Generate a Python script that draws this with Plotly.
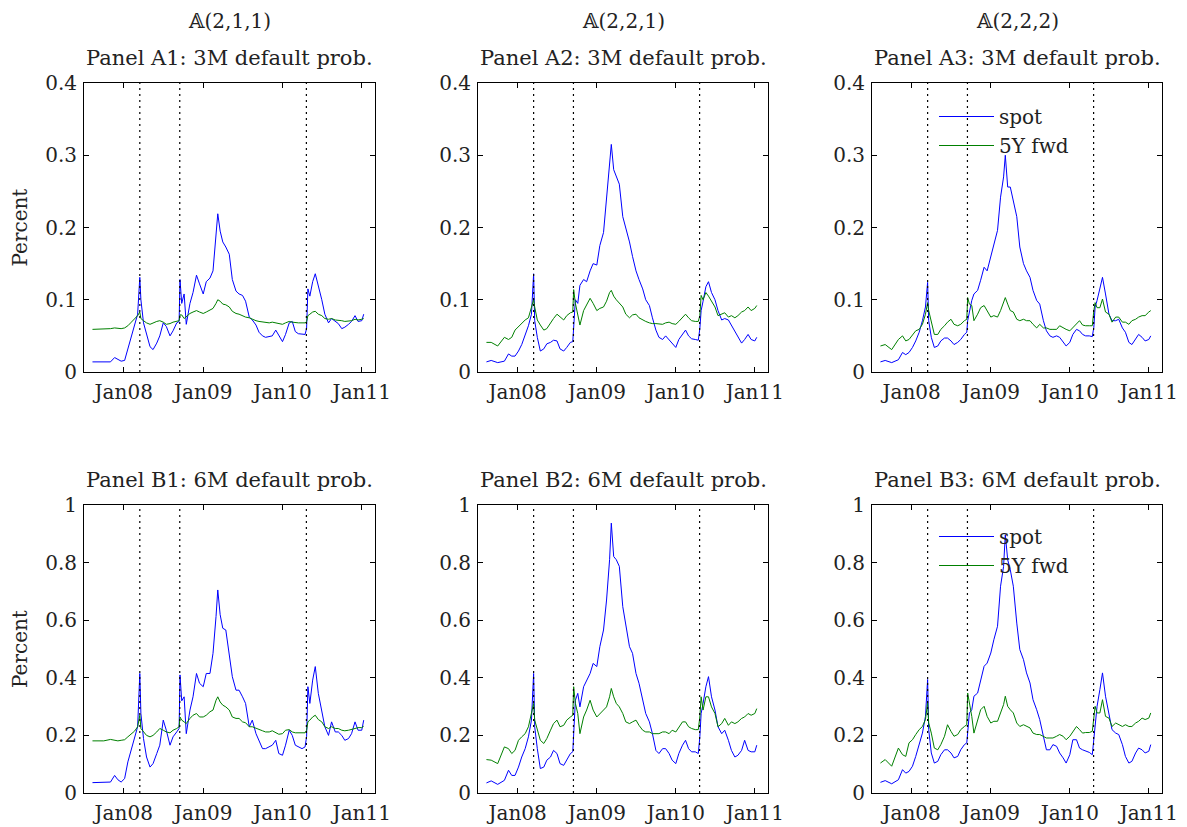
import plotly.graph_objects as go

# ---------------- data ----------------
dates = ["2007-08-10","2007-09-01","2007-10-01","2007-11-01","2007-11-20","2007-12-05","2007-12-20","2008-01-05","2008-01-20","2008-02-05",
         "2008-02-20","2008-03-05","2008-03-15","2008-03-20","2008-04-01","2008-04-15","2008-05-01","2008-05-15","2008-06-01","2008-06-15",
         "2008-07-01","2008-07-15","2008-08-01","2008-08-15","2008-09-01","2008-09-12","2008-09-16","2008-09-24","2008-10-05","2008-10-15",
         "2008-11-01","2008-11-15","2008-12-01","2008-12-15","2009-01-01","2009-01-15","2009-02-01","2009-02-15","2009-03-01","2009-03-09",
         "2009-03-20","2009-04-01","2009-04-15","2009-05-01","2009-05-15","2009-06-01","2009-06-15","2009-07-01","2009-07-15","2009-08-01",
         "2009-08-15","2009-09-01","2009-09-15","2009-10-01","2009-10-15","2009-11-01","2009-11-15","2009-12-01","2009-12-15","2010-01-01",
         "2010-01-15","2010-02-01","2010-02-15","2010-03-01","2010-03-15","2010-04-01","2010-04-15","2010-04-22","2010-04-28","2010-05-07",
         "2010-05-20","2010-06-01","2010-06-15","2010-07-01","2010-07-15","2010-08-01","2010-08-15","2010-09-01","2010-09-15","2010-10-01",
         "2010-10-15","2010-11-01","2010-11-15","2010-12-01","2010-12-15","2011-01-01","2011-01-10"]

a1_spot = [0.014,0.014,0.014,0.014,0.020,0.018,0.015,0.016,0.033,0.048,
           0.068,0.080,0.131,0.100,0.068,0.052,0.035,0.031,0.040,0.050,
           0.068,0.063,0.050,0.057,0.068,0.070,0.128,0.095,0.108,0.066,
           0.095,0.110,0.134,0.122,0.108,0.125,0.130,0.140,0.185,0.219,
           0.195,0.180,0.173,0.163,0.128,0.112,0.108,0.106,0.098,0.076,
           0.072,0.065,0.055,0.050,0.048,0.049,0.050,0.058,0.050,0.042,
           0.052,0.068,0.070,0.056,0.053,0.052,0.052,0.060,0.115,0.105,
           0.125,0.136,0.120,0.100,0.080,0.068,0.074,0.070,0.067,0.060,
           0.062,0.066,0.070,0.078,0.070,0.071,0.080]
a1_fwd = [0.059,0.059,0.059,0.060,0.061,0.060,0.060,0.061,0.064,0.069,
          0.074,0.078,0.083,0.074,0.071,0.068,0.066,0.068,0.070,0.071,
          0.069,0.066,0.067,0.069,0.070,0.071,0.079,0.079,0.074,0.077,
          0.081,0.083,0.085,0.083,0.081,0.083,0.086,0.088,0.095,0.100,
          0.098,0.094,0.093,0.090,0.084,0.081,0.080,0.078,0.076,0.075,
          0.073,0.071,0.070,0.069,0.069,0.068,0.069,0.068,0.067,0.066,
          0.068,0.070,0.069,0.068,0.068,0.068,0.068,0.070,0.078,0.080,
          0.083,0.084,0.080,0.078,0.074,0.073,0.074,0.072,0.072,0.071,
          0.070,0.070,0.071,0.073,0.072,0.073,0.074]

a2_spot = [0.014,0.016,0.013,0.015,0.025,0.022,0.022,0.029,0.038,0.050,
           0.064,0.080,0.136,0.071,0.048,0.029,0.032,0.039,0.041,0.044,
           0.043,0.032,0.029,0.034,0.041,0.042,0.060,0.100,0.095,0.120,
           0.128,0.125,0.140,0.150,0.148,0.175,0.193,0.240,0.280,0.315,
           0.280,0.270,0.260,0.215,0.200,0.180,0.160,0.140,0.128,0.115,
           0.100,0.092,0.075,0.058,0.048,0.045,0.050,0.045,0.040,0.034,
           0.045,0.052,0.058,0.050,0.046,0.045,0.044,0.060,0.085,0.098,
           0.118,0.125,0.110,0.100,0.085,0.072,0.074,0.072,0.065,0.055,
           0.048,0.040,0.045,0.052,0.045,0.043,0.048]
a2_fwd = [0.041,0.041,0.036,0.048,0.045,0.048,0.058,0.063,0.068,0.072,
          0.075,0.088,0.100,0.090,0.072,0.065,0.058,0.060,0.068,0.074,
          0.080,0.076,0.072,0.078,0.082,0.083,0.114,0.095,0.080,0.065,
          0.085,0.092,0.102,0.095,0.085,0.088,0.090,0.098,0.110,0.113,
          0.105,0.100,0.095,0.090,0.080,0.075,0.079,0.080,0.075,0.072,
          0.070,0.068,0.067,0.067,0.067,0.066,0.068,0.069,0.067,0.066,
          0.070,0.076,0.080,0.075,0.071,0.070,0.070,0.078,0.106,0.100,
          0.110,0.105,0.098,0.090,0.078,0.080,0.082,0.076,0.078,0.075,
          0.078,0.083,0.085,0.090,0.085,0.088,0.092]

a3_spot = [0.014,0.016,0.013,0.017,0.027,0.024,0.027,0.034,0.043,0.055,
           0.071,0.090,0.124,0.071,0.048,0.034,0.036,0.043,0.047,0.047,
           0.043,0.038,0.041,0.045,0.052,0.055,0.071,0.085,0.099,0.108,
           0.113,0.127,0.145,0.140,0.159,0.178,0.196,0.242,0.270,0.300,
           0.256,0.256,0.238,0.215,0.173,0.150,0.140,0.131,0.113,0.099,
           0.094,0.071,0.057,0.050,0.048,0.050,0.048,0.041,0.036,0.041,
           0.052,0.059,0.057,0.052,0.050,0.050,0.049,0.062,0.090,0.099,
           0.117,0.131,0.108,0.080,0.071,0.071,0.073,0.061,0.055,0.041,
           0.038,0.045,0.052,0.048,0.043,0.045,0.050]
a3_fwd = [0.036,0.038,0.031,0.045,0.050,0.043,0.045,0.052,0.057,0.059,
          0.066,0.080,0.096,0.085,0.069,0.052,0.052,0.059,0.064,0.069,
          0.073,0.066,0.064,0.066,0.071,0.073,0.103,0.094,0.092,0.071,
          0.080,0.089,0.092,0.085,0.076,0.078,0.076,0.085,0.096,0.103,
          0.094,0.085,0.083,0.073,0.071,0.073,0.071,0.071,0.066,0.061,
          0.066,0.061,0.061,0.059,0.059,0.059,0.064,0.061,0.059,0.057,
          0.061,0.067,0.071,0.065,0.064,0.064,0.064,0.085,0.096,0.089,
          0.089,0.101,0.083,0.080,0.069,0.076,0.076,0.069,0.069,0.066,
          0.071,0.073,0.076,0.078,0.078,0.083,0.085]

b1_spot = [0.036,0.036,0.036,0.038,0.061,0.046,0.038,0.050,0.108,0.154,
           0.195,0.230,0.415,0.276,0.189,0.125,0.090,0.102,0.137,0.166,
           0.253,0.218,0.166,0.195,0.212,0.224,0.410,0.320,0.334,0.206,
           0.288,0.334,0.415,0.381,0.369,0.415,0.415,0.485,0.613,0.705,
           0.619,0.572,0.566,0.485,0.404,0.357,0.357,0.334,0.311,0.230,
           0.253,0.206,0.183,0.154,0.154,0.160,0.166,0.183,0.137,0.131,
           0.166,0.218,0.200,0.166,0.160,0.154,0.160,0.195,0.369,0.311,
           0.392,0.439,0.346,0.288,0.230,0.200,0.247,0.212,0.212,0.200,
           0.183,0.189,0.206,0.247,0.218,0.218,0.253]
b1_fwd = [0.181,0.181,0.181,0.186,0.183,0.181,0.183,0.185,0.195,0.205,
          0.215,0.230,0.270,0.224,0.212,0.200,0.195,0.200,0.212,0.224,
          0.218,0.212,0.209,0.218,0.224,0.230,0.264,0.253,0.247,0.241,
          0.259,0.270,0.276,0.264,0.264,0.270,0.282,0.288,0.322,0.334,
          0.316,0.305,0.299,0.288,0.264,0.259,0.259,0.247,0.244,0.230,
          0.230,0.224,0.220,0.216,0.212,0.212,0.216,0.209,0.204,0.206,
          0.218,0.220,0.212,0.209,0.209,0.209,0.209,0.218,0.247,0.253,
          0.264,0.270,0.255,0.247,0.230,0.224,0.230,0.224,0.224,0.218,
          0.216,0.218,0.220,0.224,0.227,0.227,0.232]

b2_spot = [0.035,0.042,0.030,0.044,0.079,0.061,0.061,0.090,0.125,0.154,
           0.195,0.253,0.415,0.230,0.154,0.085,0.090,0.114,0.125,0.148,
           0.137,0.102,0.096,0.114,0.137,0.143,0.218,0.322,0.346,0.299,
           0.369,0.392,0.415,0.450,0.439,0.508,0.566,0.670,0.810,0.937,
           0.821,0.810,0.787,0.647,0.589,0.508,0.485,0.415,0.381,0.322,
           0.276,0.247,0.206,0.148,0.137,0.154,0.154,0.137,0.114,0.102,
           0.137,0.166,0.183,0.154,0.143,0.143,0.137,0.195,0.276,0.311,
           0.369,0.404,0.334,0.288,0.230,0.206,0.218,0.183,0.148,0.125,
           0.131,0.148,0.183,0.148,0.143,0.143,0.166]
b2_fwd = [0.116,0.114,0.102,0.160,0.154,0.137,0.148,0.183,0.195,0.206,
          0.230,0.276,0.311,0.253,0.224,0.183,0.172,0.189,0.218,0.241,
          0.253,0.230,0.235,0.253,0.264,0.270,0.369,0.311,0.276,0.206,
          0.264,0.288,0.322,0.288,0.264,0.276,0.288,0.299,0.334,0.363,
          0.334,0.311,0.299,0.276,0.247,0.241,0.247,0.253,0.235,0.218,
          0.212,0.212,0.206,0.206,0.206,0.212,0.212,0.206,0.218,0.212,
          0.230,0.247,0.247,0.230,0.224,0.220,0.220,0.264,0.334,0.288,
          0.334,0.334,0.299,0.276,0.230,0.241,0.259,0.235,0.247,0.241,
          0.247,0.259,0.264,0.276,0.270,0.276,0.293]

b3_spot = [0.037,0.043,0.032,0.046,0.081,0.069,0.075,0.093,0.127,0.168,
           0.208,0.266,0.394,0.220,0.139,0.104,0.110,0.133,0.150,0.150,
           0.139,0.122,0.127,0.150,0.168,0.174,0.220,0.278,0.289,0.336,
           0.347,0.394,0.440,0.451,0.486,0.532,0.579,0.718,0.787,0.897,
           0.810,0.775,0.718,0.590,0.498,0.463,0.417,0.382,0.324,0.289,
           0.255,0.197,0.150,0.150,0.168,0.162,0.139,0.122,0.104,0.133,
           0.185,0.185,0.156,0.150,0.145,0.141,0.133,0.185,0.255,0.301,
           0.359,0.417,0.336,0.266,0.220,0.208,0.203,0.168,0.127,0.104,
           0.110,0.139,0.156,0.150,0.139,0.145,0.168]
b3_fwd = [0.104,0.116,0.093,0.156,0.133,0.127,0.174,0.185,0.203,0.220,
          0.231,0.255,0.313,0.243,0.208,0.156,0.150,0.168,0.197,0.237,
          0.214,0.197,0.203,0.220,0.231,0.237,0.347,0.313,0.266,0.208,
          0.255,0.289,0.301,0.266,0.243,0.249,0.249,0.278,0.307,0.336,
          0.301,0.289,0.278,0.243,0.231,0.237,0.231,0.226,0.208,0.203,
          0.203,0.197,0.191,0.191,0.191,0.197,0.203,0.197,0.185,0.197,
          0.214,0.231,0.220,0.208,0.210,0.210,0.214,0.255,0.301,0.278,
          0.278,0.324,0.266,0.260,0.231,0.243,0.237,0.231,0.237,0.231,
          0.231,0.243,0.249,0.260,0.255,0.260,0.278]

event_dates = ["2008-03-15", "2008-09-15", "2010-04-21"]
tick_dates = ["2008-01-01", "2009-01-01", "2010-01-01", "2011-01-01"]
tick_labels = ["Jan08", "Jan09", "Jan10", "Jan11"]
model_titles = ["\U0001D538(2,1,1)", "\U0001D538(2,2,1)", "\U0001D538(2,2,2)"]
panel_titles = ["Panel A1: 3M default prob.", "Panel A2: 3M default prob.", "Panel A3: 3M default prob.",
                "Panel B1: 6M default prob.", "Panel B2: 6M default prob.", "Panel B3: 6M default prob."]
series_names = ["spot", "5Y fwd"]
spot_series = [a1_spot, a2_spot, a3_spot, b1_spot, b2_spot, b3_spot]
fwd_series = [a1_fwd, a2_fwd, a3_fwd, b1_fwd, b2_fwd, b3_fwd]

# ---------------- layout geometry ----------------
# the page places the figure 8px from the top-left corner, so the figure is
# 8px smaller and every pixel position below is in figure coordinates
W, H = 1179, 819
col_px = [(76, 367), (470, 760), (864, 1154)]
row_px = [(75, 364), (497, 785)]
FONT = "DejaVu Serif"
TXT = "#222222"
BLUE = "#0000FF"
GREEN = "#008000"

fig = go.Figure()
layout = dict(width=W, height=H, margin=dict(l=0, r=0, t=0, b=0, pad=0, autoexpand=False),
              paper_bgcolor="white", plot_bgcolor="white",
              font=dict(family=FONT, size=20, color=TXT))
shapes, annotations = [], []

for k in range(6):
    r, c = divmod(k, 3)
    xs = "" if k == 0 else str(k + 1)
    xref, yref = "x" + xs, "y" + xs
    legend_id = None
    if c == 2:
        legend_id = "legend" if r == 0 else "legend2"
    for vals, name, color in [(spot_series[k], series_names[0], BLUE),
                              (fwd_series[k], series_names[1], GREEN)]:
        tr = dict(x=dates, y=vals, mode="lines", name=name,
                  line=dict(color=color, width=1),
                  xaxis=xref, yaxis=yref, showlegend=legend_id is not None)
        if legend_id:
            tr["legend"] = legend_id
        fig.add_trace(go.Scatter(**tr))

    x0, x1 = col_px[c]
    y0, y1 = row_px[r]
    axis_common = dict(showline=True, linecolor="black", linewidth=1, mirror="allticks",
                       ticks="inside", ticklen=5, tickcolor="black", tickwidth=1,
                       showgrid=False, zeroline=False, automargin=False,
                       tickfont=dict(family=FONT, size=20, color=TXT))
    layout["xaxis" + xs] = dict(domain=[x0 / W, x1 / W], anchor=yref, type="date",
                                range=["2007-07-02", "2011-03-03"],
                                tickvals=tick_dates, ticktext=tick_labels,
                                ticklabelstandoff=2, **axis_common)
    if r == 0:
        yax = dict(range=[0, 0.4], tickvals=[0, 0.1, 0.2, 0.3, 0.4],
                   ticktext=["0", "0.1", "0.2", "0.3", "0.4"])
    else:
        yax = dict(range=[0, 1], tickvals=[0, 0.2, 0.4, 0.6, 0.8, 1],
                   ticktext=["0", "0.2", "0.4", "0.6", "0.8", "1"])
    layout["yaxis" + xs] = dict(domain=[1 - y1 / H, 1 - y0 / H], anchor=xref,
                                ticklabelstandoff=2, **yax, **axis_common)

    for d in event_dates:
        shapes.append(dict(type="line", xref=xref, yref=yref + " domain",
                           x0=d, x1=d, y0=0, y1=1,
                           line=dict(color="black", width=1.2, dash="2px,4px")))

    cx = (x0 + x1) / 2 / W
    ty = (y0 - 25) / H
    annotations.append(dict(text=panel_titles[k], x=cx, y=1 - ty, xref="paper", yref="paper",
                            xanchor="center", yanchor="middle", showarrow=False,
                            font=dict(family=FONT, size=21, color=TXT)))
    if r == 0:
        annotations.append(dict(text=model_titles[c], x=cx, y=1, xref="paper", yref="paper",
                                xanchor="center", yanchor="top", showarrow=False, borderpad=0,
                                font=dict(family=FONT, size=20, color=TXT)))
    if c == 0:
        annotations.append(dict(text="Percent", x=12 / W, y=1 - (y0 + y1) / 2 / H,
                                xref="paper", yref="paper", textangle=-90,
                                xanchor="center", yanchor="middle", showarrow=False,
                                font=dict(family=FONT, size=20, color=TXT)))

leg_common = dict(xanchor="left", yanchor="top", bgcolor="rgba(0,0,0,0)", borderwidth=0,
                  font=dict(family=FONT, size=20, color=TXT), itemwidth=55, tracegroupgap=0)
layout["legend"] = dict(x=926 / W, y=1 - 89 / H, **leg_common)
layout["legend2"] = dict(x=926 / W, y=1 - 509 / H, **leg_common)
layout["shapes"] = shapes
layout["annotations"] = annotations
fig.update_layout(**layout)

fig.write_html("out.html")
